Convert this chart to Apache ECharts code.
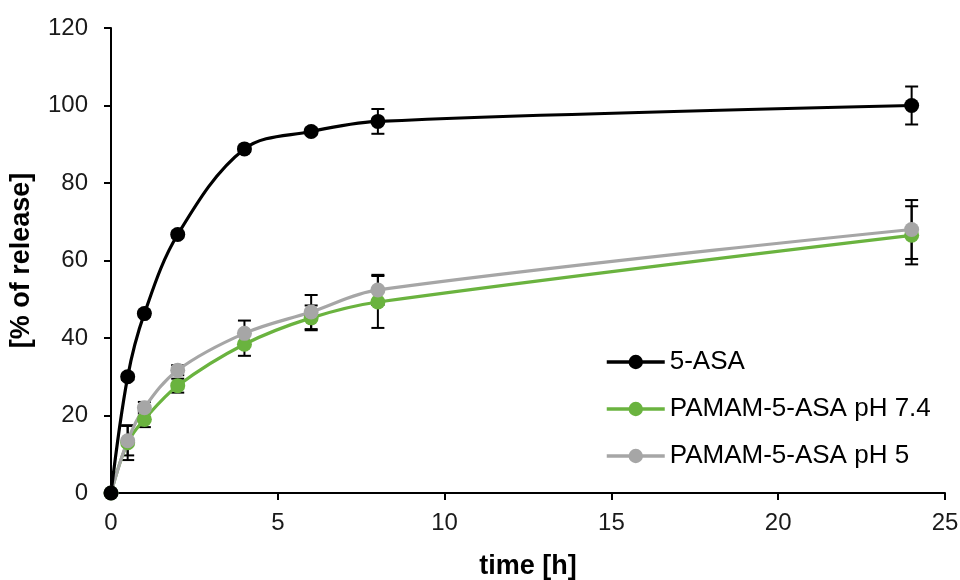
<!DOCTYPE html>
<html><head><meta charset="utf-8">
<script src="https://cdn.jsdelivr.net/npm/echarts@6/dist/echarts.min.js"></script>
<style>html,body{margin:0;background:#fff}#c{width:960px;height:580px}</style>
</head><body><div id="c"></div>
<script>
const times = [0, 0.5, 1, 2, 4, 6, 8, 24];
const asa = [0, 30, 46.3, 66.7, 88.8, 93.3, 95.9, 100];
const asaErr = [0, 0.8, 0.8, 0.8, 0.8, 0.8, 3.2, 4.9];
const ph74 = [0, 13, 19, 27.7, 38.4, 45.2, 49.3, 66.5];
const ph74Err = [0, 4.5, 2, 1.8, 3, 3.2, 6.7, 7.5];
const ph5 = [0, 13.5, 22, 31.7, 41.2, 46.7, 52.4, 68];
const ph5Err = [0, 3.8, 1.5, 1.3, 3.3, 4.4, 3.9, 7.6];
const names = ['5-ASA', 'PAMAM-5-ASA pH 7.4', 'PAMAM-5-ASA pH 5'];
const colors = ['#000000', '#6ab33f', '#a6a6a6'];

const chart = echarts.init(document.getElementById('c'));
const font = 'Liberation Sans, Arial, sans-serif';

function lineSeries(name, vals, color, z) {
  return {
    name: name, type: 'line', smooth: 0.35,
    data: times.map((t, i) => [t, vals[i]]),
    symbol: 'circle', symbolSize: 15,
    lineStyle: { color: color, width: 3.2 },
    itemStyle: { color: color },
    z: z
  };
}
function errSeries(vals, errs, z) {
  return {
    type: 'custom', silent: true, z: z,
    data: times.map((t, i) => [t, vals[i] - errs[i], vals[i] + errs[i]]),
    renderItem: function (params, api) {
      const lo = api.coord([api.value(0), api.value(1)]);
      const hi = api.coord([api.value(0), api.value(2)]);
      const w = 6.5;
      const st = { stroke: '#000', lineWidth: 2 };
      return { type: 'group', children: [
        { type: 'line', shape: { x1: lo[0], y1: lo[1], x2: hi[0], y2: hi[1] }, style: st },
        { type: 'line', shape: { x1: lo[0] - w, y1: lo[1], x2: lo[0] + w, y2: lo[1] }, style: st },
        { type: 'line', shape: { x1: hi[0] - w, y1: hi[1], x2: hi[0] + w, y2: hi[1] }, style: st }
      ]};
    }
  };
}

chart.setOption({
  animation: false,
  backgroundColor: '#fff',
  grid: { left: 111, right: 15, top: 28, bottom: 87, outerBoundsMode: 'none', containLabel: false },
  legend: {
    orient: 'vertical', left: 600, top: 344, itemWidth: 58, itemHeight: 18, itemGap: 21,
    data: names,
    lineStyle: { width: 3.5 },
    textStyle: { fontFamily: font, fontSize: 26, lineHeight: 26, color: '#000' }
  },
  xAxis: {
    type: 'value', min: 0, max: 25, interval: 5,
    name: 'time [h]', nameLocation: 'middle', nameGap: 60,
    nameTextStyle: { fontFamily: font, fontSize: 27, fontWeight: 'bold', color: '#000' },
    axisLine: { lineStyle: { color: '#000', width: 2 } },
    axisTick: { show: true, length: 7, lineStyle: { color: '#000', width: 2 } },
    axisLabel: { fontFamily: font, fontSize: 24, color: '#1a1a1a', margin: 18 },
    splitLine: { show: false }
  },
  yAxis: {
    type: 'value', min: 0, max: 120, interval: 20,
    name: '[% of release]', nameLocation: 'middle', nameGap: 76, nameRotate: 90,
    nameTextStyle: { fontFamily: font, fontSize: 27, fontWeight: 'bold', color: '#000' },
    axisLine: { show: true, lineStyle: { color: '#000', width: 2 } },
    axisTick: { show: true, length: 7, lineStyle: { color: '#000', width: 2 } },
    axisLabel: { fontFamily: font, fontSize: 24, color: '#1a1a1a', margin: 23 },
    splitLine: { show: false }
  },
  series: [
    errSeries(asa, asaErr, 1),
    errSeries(ph74, ph74Err, 1),
    errSeries(ph5, ph5Err, 1),
    lineSeries(names[0], asa, colors[0], 4),
    lineSeries(names[1], ph74, colors[1], 3),
    lineSeries(names[2], ph5, colors[2], 3)
  ]
});
</script></body></html>
